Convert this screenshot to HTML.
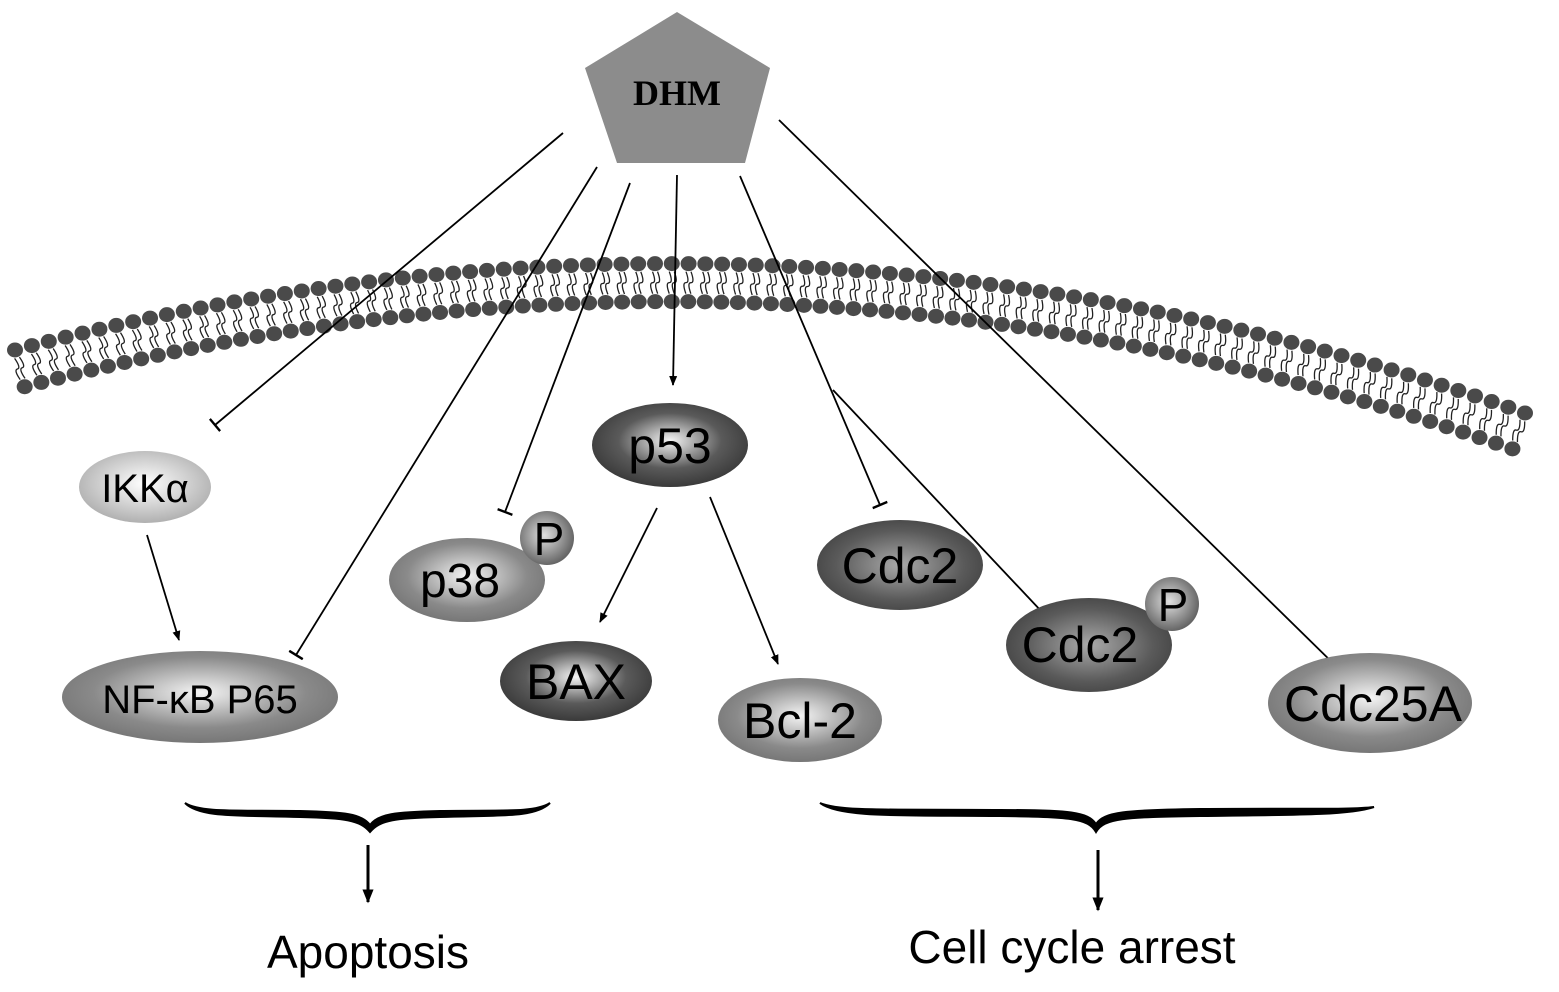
<!DOCTYPE html>
<html><head><meta charset="utf-8"><style>
html,body{margin:0;padding:0;background:#fff;}
svg{display:block;}
text{font-family:"Liberation Sans",sans-serif;fill:#000;}
</style></head><body>
<svg id="s" width="1559" height="992" viewBox="0 0 1559 992" xmlns="http://www.w3.org/2000/svg">
<defs>
<radialGradient id="gd" cx="50%" cy="45%" r="55%"><stop offset="0" stop-color="#f4f4f4"/><stop offset="0.6" stop-color="#5a5a5a"/><stop offset="1" stop-color="#3a3a3a"/></radialGradient>
<radialGradient id="gm" cx="50%" cy="45%" r="55%"><stop offset="0" stop-color="#f4f4f4"/><stop offset="0.7" stop-color="#8a8a8a"/><stop offset="1" stop-color="#777"/></radialGradient>
<radialGradient id="gl" cx="50%" cy="45%" r="55%"><stop offset="0" stop-color="#fff"/><stop offset="0.7" stop-color="#c8c8c8"/><stop offset="1" stop-color="#b0b0b0"/></radialGradient>
<radialGradient id="gb" cx="50%" cy="50%" r="55%"><stop offset="0" stop-color="#aaa"/><stop offset="0.7" stop-color="#5a5a5a"/><stop offset="1" stop-color="#444"/></radialGradient>
<radialGradient id="gp" cx="45%" cy="45%" r="55%"><stop offset="0" stop-color="#e0e0e0"/><stop offset="1" stop-color="#666"/></radialGradient>
<marker id="ar" viewBox="0 0 10 10" refX="9" refY="5" markerWidth="10" markerHeight="10" markerUnits="userSpaceOnUse" orient="auto"><path d="M0,1 L10,5 L0,9 Z" fill="#000"/></marker>
<marker id="ar2" viewBox="0 0 10 10" refX="9" refY="5" markerWidth="14" markerHeight="14" markerUnits="userSpaceOnUse" orient="auto"><path d="M0,1 L10,5 L0,9 Z" fill="#000"/></marker>
<marker id="bar" viewBox="0 0 10 10" refX="5" refY="5" markerWidth="16" markerHeight="16" markerUnits="userSpaceOnUse" orient="auto"><path d="M5,0 L5,10" stroke="#000" stroke-width="1.5"/></marker>
</defs>
<g id="mem"></g>

<polygon points="677,12 770,68 745,163 617,163 585,68" fill="#8c8c8c"/>
<text x="677" y="105" text-anchor="middle" style="font-family:'Liberation Serif',serif;font-weight:bold;font-size:36px">DHM</text>

<g stroke="#000" stroke-width="1.8" fill="none">
<line x1="563" y1="133" x2="215" y2="425" marker-end="url(#bar)"/>
<line x1="597" y1="167" x2="296" y2="655" marker-end="url(#bar)"/>
<line x1="630" y1="183" x2="505" y2="512" marker-end="url(#bar)"/>
<line x1="677" y1="175" x2="673" y2="385" marker-end="url(#ar)"/>
<line x1="740" y1="176" x2="880" y2="505" marker-end="url(#bar)"/>
<line x1="833" y1="390" x2="1043" y2="613" marker-end="url(#bar)"/>
<line x1="779" y1="120" x2="1340" y2="670" marker-end="url(#bar)"/>
<line x1="147" y1="535" x2="179" y2="640" marker-end="url(#ar)"/>
<line x1="657" y1="508" x2="600" y2="622" marker-end="url(#ar)"/>
<line x1="710" y1="497" x2="778" y2="664" marker-end="url(#ar)"/>
</g>

<ellipse cx="145" cy="487" rx="66" ry="36" fill="url(#gl)"/>
<text x="145" y="502" text-anchor="middle" font-size="40">IKKα</text>
<ellipse cx="200" cy="697" rx="138" ry="46" fill="url(#gm)"/>
<text x="200" y="713" text-anchor="middle" font-size="40">NF-κB P65</text>
<ellipse cx="467" cy="580" rx="78" ry="42" fill="url(#gm)"/>
<text x="460" y="597" text-anchor="middle" font-size="48">p38</text>
<circle cx="547" cy="538" r="27" fill="url(#gp)"/>
<text x="549" y="555" text-anchor="middle" font-size="46">P</text>
<ellipse cx="670" cy="445" rx="78" ry="42" fill="url(#gd)"/>
<text x="670" y="463" text-anchor="middle" font-size="50">p53</text>
<ellipse cx="576" cy="681" rx="76" ry="40" fill="url(#gd)"/>
<text x="576" y="699" text-anchor="middle" font-size="50">BAX</text>
<ellipse cx="800" cy="720" rx="82" ry="42" fill="url(#gm)"/>
<text x="800" y="738" text-anchor="middle" font-size="50">Bcl-2</text>
<ellipse cx="900" cy="565" rx="83" ry="45" fill="url(#gb)"/>
<text x="900" y="583" text-anchor="middle" font-size="50">Cdc2</text>
<ellipse cx="1089" cy="645" rx="83" ry="47" fill="url(#gb)"/>
<text x="1080" y="662" text-anchor="middle" font-size="50">Cdc2</text>
<circle cx="1172" cy="604" r="27" fill="url(#gp)"/>
<text x="1173" y="621" text-anchor="middle" font-size="46">P</text>
<ellipse cx="1370" cy="703" rx="102" ry="50" fill="url(#gm)"/>
<text x="1373" y="721" text-anchor="middle" font-size="50">Cdc25A</text>

<path d="M185,803 C200,818 240,815 300,817 C345,818 360,820 370,832 C380,820 395,818 440,817 C500,815 535,818 550,803 C535,813 500,810 440,811 C395,812 378,814 370,825 C362,814 345,812 300,811 C240,810 200,813 185,803 Z" fill="#000" stroke="#000" stroke-width="2"/>
<path d="M820,803 C840,818 900,815 1000,816 C1070,817 1088,818 1096,832 C1104,818 1125,817 1200,816 C1300,815 1350,815 1374,807 C1350,810 1300,808 1200,809 C1125,810 1104,812 1096,824 C1088,812 1070,810 1000,810 C900,809 840,812 820,803 Z" fill="#000" stroke="#000" stroke-width="2"/>
<line x1="368" y1="845" x2="368" y2="902" stroke="#000" stroke-width="3" marker-end="url(#ar2)"/>
<line x1="1098" y1="850" x2="1098" y2="910" stroke="#000" stroke-width="3" marker-end="url(#ar2)"/>
<text x="368" y="968" text-anchor="middle" font-size="46">Apoptosis</text>
<text x="1072" y="963" text-anchor="middle" font-size="46">Cell cycle arrest</text>
</svg>
<script>
(function(){
var g=document.getElementById('mem'),ns='http://www.w3.org/2000/svg';
var P0=[15,350],P1=[775,150],P2=[1525,413];
function pt(t){var a=(1-t)*(1-t),b=2*t*(1-t),c=t*t;return [a*P0[0]+b*P1[0]+c*P2[0],a*P0[1]+b*P1[1]+c*P2[1]];}
function dr(t){return [2*(1-t)*(P1[0]-P0[0])+2*t*(P2[0]-P1[0]),2*(1-t)*(P1[1]-P0[1])+2*t*(P2[1]-P1[1])];}
var N=90,h='';
for(var i=0;i<=N;i++){var t=i/N,p=pt(t),d=dr(t),L=Math.hypot(d[0],d[1]);var nx=-d[1]/L,ny=d[0]/L;
if(ny<0){nx=-nx;ny=-ny;}
var q=[p[0]+nx*38,p[1]+ny*38];
for(var k=-1;k<=1;k+=2){var o=k*2.5;var sx=p[0]+nx*8+(-ny)*o*0+d[0]/L*o,sy=p[1]+ny*8+d[1]/L*o;
var ex=p[0]+nx*30+d[0]/L*o,ey=p[1]+ny*30+d[1]/L*o;var mx=(sx+ex)/2,my=(sy+ey)/2;
h+='<path d="M'+sx+','+sy+' Q'+(mx+d[0]/L*4)+','+(my+d[1]/L*4)+' '+mx+','+my+' T'+ex+','+ey+'" stroke="#222" stroke-width="1.3" fill="none"/>';}
h+='<ellipse cx="'+p[0]+'" cy="'+p[1]+'" rx="8" ry="7.5" fill="#4a4a4a"/>';
h+='<ellipse cx="'+q[0]+'" cy="'+q[1]+'" rx="8" ry="7.5" fill="#4a4a4a"/>';}
g.innerHTML=h;
})();
</script>
</body></html>
